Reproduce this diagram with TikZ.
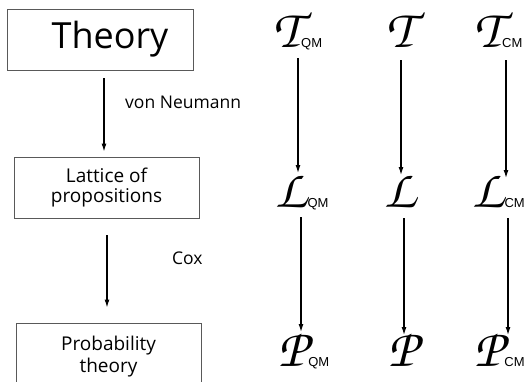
\documentclass[tikz,border=0pt]{standalone}
\usepackage{graphicx}
\usepackage{fontspec}
\setsansfont{Open Sans}
\newfontfamily\subfont{Liberation Sans}
\usetikzlibrary{arrows.meta}
\newcommand\scrl[1]{{\fontsize{54}{54}\usefont{T1}{pzc}{mb}{it}#1}}
\newcommand\sub[1]{{\kern1pt\fontsize{13}{13}\subfont #1}}
\begin{document}
\begin{tikzpicture}[x=1pt,y=-1pt,
  box/.style={draw=black!65,line width=0.9pt,minimum width=185pt,minimum height=61pt,inner sep=0pt,align=center,font=\sffamily},
  mth/.style={anchor=base west,inner sep=0pt},
  arr/.style={line width=1.2pt,-{Latex[length=8pt,width=5pt]}},
  lbl/.style={font=\sffamily\fontsize{17.5}{19}\selectfont,anchor=west,inner sep=0pt}]
\useasboundingbox (0,0) rectangle (526,381);
\clip (0,0) rectangle (526,381);
% left column
\node[box,minimum width=186pt,font=\sffamily\fontsize{36}{38}\selectfont] (theory) at (100,39.5) {\hspace*{20pt}Theory};
\node[box,font=\sffamily\fontsize{19}{20}\selectfont] (lattice) at (106.5,187.5) {Lattice of\\propositions};
\node[box,minimum height=68pt,font=\sffamily\fontsize{19}{22}\selectfont] (prob) at (108.5,357) {Probability\\theory};
\draw[arr,shorten <=8pt,shorten >=5pt] ([xshift=4pt]theory.south) -- ([xshift=-2.5pt]lattice.north);
\draw[arr,shorten <=17pt,shorten >=15pt] ([xshift=0.5pt]lattice.south) -- ([xshift=-1.5pt]prob.north);
\node[lbl] (vn) at (125,102) {von Neumann};
\node[lbl] (cox) at (172,258) {Cox};
% right side
\node[mth] (tqm) at (273,47) {\scrl{T}\sub{QM}};
\node[mth] (t) at (386,47) {\scrl{T}};
\node[mth] (tcm) at (474,47) {\scrl{T}\sub{CM}};
\node[mth] (lqm) at (275,207) {\scrl{L}\sub{QM}};
\node[mth] (l) at (384,207) {\scrl{L}};
\node[mth] (lcm) at (472,207) {\scrl{L}\sub{CM}};
\node[mth] (pqm) at (278,366) {\scrl{P}\sub{QM}};
\node[mth] (p) at (388,366) {\scrl{P}};
\node[mth] (pcm) at (474,366) {\scrl{P}\sub{CM}};
\draw[arr] ([shift={(25pt,-11pt)}]tqm.base west) -- ([shift={(23pt,34pt)}]lqm.base west);
\draw[arr] ([shift={(26pt,-10pt)}]lqm.base west) -- ([shift={(23pt,34pt)}]pqm.base west);
\draw[arr] ([shift={(15pt,-13pt)}]t.base west) -- ([shift={(17pt,32pt)}]l.base west);
\draw[arr] ([shift={(20pt,-11pt)}]l.base west) -- ([shift={(16pt,31pt)}]p.base west);
\draw[arr] ([shift={(32pt,-13pt)}]tcm.base west) -- ([shift={(34pt,29pt)}]lcm.base west);
\draw[arr] ([shift={(36pt,-11pt)}]lcm.base west) -- ([shift={(34pt,31pt)}]pcm.base west);
\end{tikzpicture}
\end{document}
